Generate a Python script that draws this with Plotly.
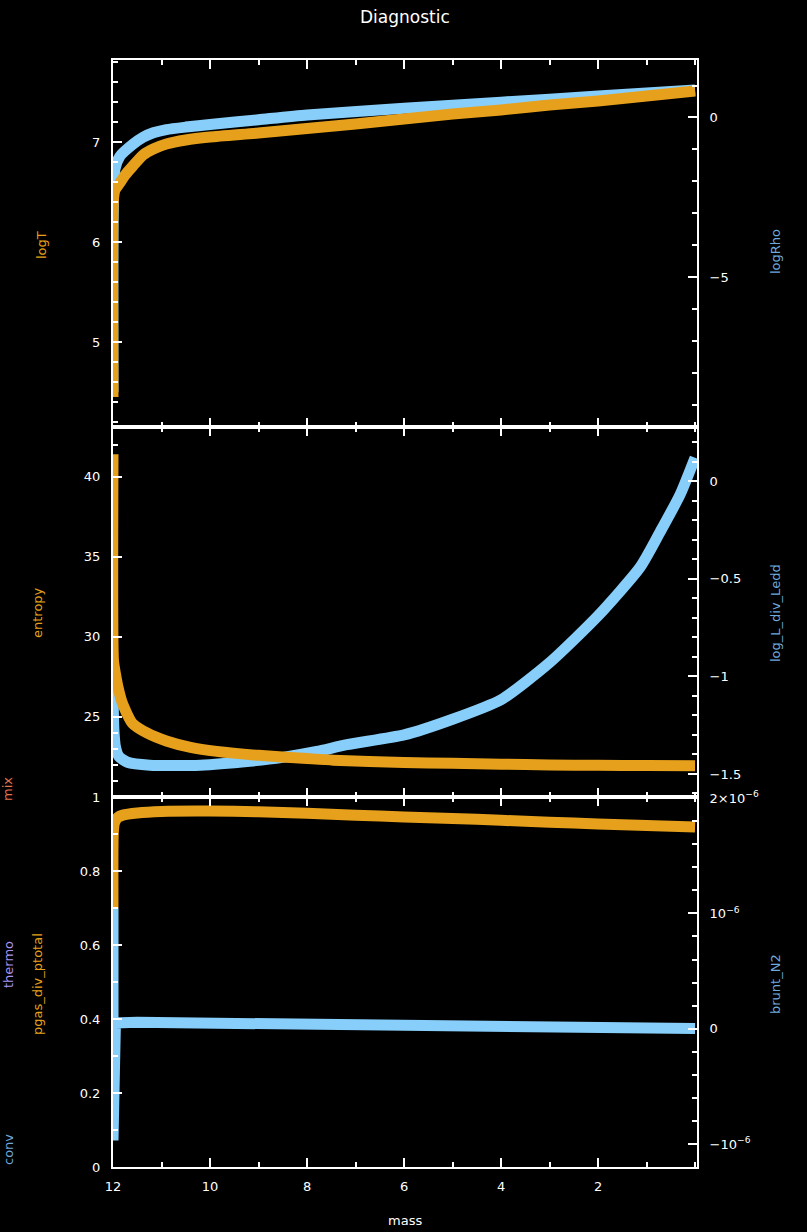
import plotly.graph_objects as go

# ---------------- data ----------------
# top panel
mass_logT = [12.0, 11.995, 11.96, 11.86, 11.75, 11.59, 11.38, 11.17, 10.9, 10.5, 10.0, 9.0, 8.0, 7.0, 6.0, 5.0, 4.0, 3.0, 2.0, 1.0, 0.0]
logT = [4.45, 6.40, 6.52, 6.59, 6.67, 6.76, 6.87, 6.93, 6.98, 7.02, 7.05, 7.09, 7.135, 7.18, 7.23, 7.28, 7.32, 7.37, 7.41, 7.46, 7.51]
mass_logRho = [12.0, 11.995, 11.96, 11.86, 11.59, 11.38, 11.17, 10.9, 10.5, 10.0, 9.0, 8.0, 6.0, 4.0, 2.0, 0.0]
logRho = [-8.6, -3.0, -1.62, -1.22, -0.84, -0.62, -0.48, -0.38, -0.30, -0.22, -0.07, 0.08, 0.29, 0.48, 0.67, 0.86]

# middle panel
mass_entropy = [12.0, 11.99, 11.95, 11.9, 11.8, 11.6, 11.3, 10.9, 10.4, 9.86, 9.0, 8.0, 7.46, 6.0, 5.0, 4.0, 3.0, 2.0, 1.0, 0.0]
entropy = [41.4, 28.5, 27.7, 26.9, 25.8, 24.6, 24.0, 23.5, 23.1, 22.85, 22.6, 22.4, 22.3, 22.15, 22.1, 22.05, 22.0, 21.98, 21.96, 21.95]
mass_lum = [12.0, 11.995, 11.98, 11.95, 11.88, 11.7, 11.24, 10.2, 9.18, 8.5, 7.8, 7.18, 6.0, 5.0, 4.0, 3.0, 2.0, 1.13, 0.72, 0.31, 0.0]
log_L_div_Ledd = [-1.0, -1.15, -1.28, -1.36, -1.41, -1.44, -1.455, -1.455, -1.435, -1.415, -1.385, -1.35, -1.30, -1.22, -1.12, -0.93, -0.69, -0.44, -0.26, -0.07, 0.12]

# bottom panel
mass_pgas = [12.0, 11.995, 11.97, 11.9, 11.8, 11.5, 11.0, 10.0, 9.0, 8.0, 7.0, 6.0, 5.0, 4.0, 3.0, 2.0, 1.0, 0.0]
pgas_div_ptotal = [0.70, 0.90, 0.93, 0.945, 0.951, 0.957, 0.961, 0.962, 0.960, 0.956, 0.951, 0.946, 0.942, 0.937, 0.932, 0.927, 0.923, 0.919]
mass_brunt = [12.0, 12.0, 12.0, 12.0, 12.0, 11.95, 11.5, 10.0, 8.8, 8.0, 6.0, 4.0, 2.0, 0.0]
brunt_N2 = [1.05e-6, -0.5e-6, 0.8e-6, -0.97e-6, 0.05e-6, 0.05e-6, 0.055e-6, 0.05e-6, 0.045e-6, 0.035e-6, 0.015e-6, 0.008e-6, 0.004e-6, 0.002e-6]

# ticks
x_ticks = [12, 10, 8, 6, 4, 2]
logT_ticks = [5, 6, 7]
logRho_ticks = [-5, 0]
entropy_ticks = [25, 30, 35, 40]
entropy_minor = [21, 22, 23, 24, 42]
lum_ticks = [-1.5, -1, -0.5, 0]
lum_text = ["\u22121.5", "\u22121", "\u22120.5", "0"]
pgas_ticks = [0, 0.2, 0.4, 0.6, 0.8, 1]
brunt_ticks = [-1e-6, 0, 1e-6, 2e-6]
brunt_text = ["\u221210<sup>\u22126</sup>", "0", "10<sup>\u22126</sup>", "2\u00d710<sup>\u22126</sup>"]

ORANGE = "#E6A01C"
BLUE = "#87CEFA"
LBL_BLUE = "#6FA8DC"
FONT = "DejaVu Sans"
W = 11

fig = go.Figure()

def sline(color):
    return dict(color=color, width=W, shape="spline", smoothing=0.6)

# blue traces on base (right) axes, orange on overlaying (left) axes -> orange on top
fig.add_trace(go.Scatter(x=mass_logRho, y=logRho, xaxis="x3", yaxis="y5", mode="lines", line=sline(BLUE)))
fig.add_trace(go.Scatter(x=mass_logT, y=logT, xaxis="x3", yaxis="y6", mode="lines", line=sline(ORANGE)))
fig.add_trace(go.Scatter(x=mass_lum, y=log_L_div_Ledd, xaxis="x2", yaxis="y3", mode="lines", line=sline(BLUE)))
fig.add_trace(go.Scatter(x=mass_entropy, y=entropy, xaxis="x2", yaxis="y4", mode="lines", line=sline(ORANGE)))
fig.add_trace(go.Scatter(x=mass_brunt, y=brunt_N2, xaxis="x", yaxis="y", mode="lines",
                         line=dict(color=BLUE, width=W)))
fig.add_trace(go.Scatter(x=mass_pgas, y=pgas_div_ptotal, xaxis="x", yaxis="y2", mode="lines", line=sline(ORANGE)))

H = 1107.0
d_bot = [0, 370 / H]
d_mid = [370 / H, 740 / H]
d_top = [740 / H, 1]

tickfont = dict(family=FONT, size=13, color="white")
minor_common = dict(ticks="inside", ticklen=5, tickcolor="white", tickwidth=1.5, showgrid=False)
common_x = dict(range=[12, -0.04], tickvals=x_ticks, ticks="inside", ticklen=9, tickwidth=1.5,
                tickcolor="white", showline=True, linecolor="white", linewidth=2, mirror="ticks",
                showgrid=False, zeroline=False, tickfont=tickfont, ticklabelstandoff=6,
                minor=dict(minor_common, dtick=1))

def yax(side, rng, domain=None, overlay=None, anchor="x", **kw):
    d = dict(range=rng, side=side, ticks="inside", ticklen=9, tickwidth=1.5, tickcolor="white",
             showline=True, linecolor="white", linewidth=2, showgrid=False, zeroline=False,
             tickfont=tickfont, anchor=anchor, ticklabelstandoff=8)
    if domain is not None:
        d["domain"] = domain
    if overlay is not None:
        d["overlaying"] = overlay
    d.update(kw)
    return d

fig.update_layout(
    width=807, height=1232,
    margin=dict(l=113, r=110, t=60, b=65),
    paper_bgcolor="black", plot_bgcolor="black",
    showlegend=False,
    font=dict(family=FONT, color="white"),
    xaxis=dict(common_x, anchor="y", domain=[0, 1]),
    xaxis2=dict(common_x, anchor="y3", matches="x", showticklabels=False),
    xaxis3=dict(common_x, anchor="y5", matches="x", showticklabels=False),
    # bottom
    yaxis=yax("right", [-1.2e-6, 2.01e-6], d_bot, anchor="x", tickvals=brunt_ticks, ticktext=brunt_text,
              minor=dict(minor_common, dtick=2e-7)),
    yaxis2=yax("left", [0, 1.0], overlay="y", anchor="x", tickvals=pgas_ticks,
               minor=dict(minor_common, dtick=0.1)),
    # middle
    yaxis3=yax("right", [-1.618, 0.277], d_mid, anchor="x2", tickvals=lum_ticks, ticktext=lum_text,
               minor=dict(minor_common, dtick=0.1)),
    yaxis4=yax("left", [20, 43.1], overlay="y3", anchor="x2", tickvals=entropy_ticks,
               minor=dict(minor_common, tickvals=entropy_minor)),
    # top
    yaxis5=yax("right", [-9.69, 1.8], d_top, anchor="x3", tickvals=logRho_ticks,
               minor=dict(minor_common, dtick=1)),
    yaxis6=yax("left", [4.15, 7.82], overlay="y5", anchor="x3", tickvals=logT_ticks,
               minor=dict(minor_common, dtick=0.2)),
)

def px2x(px):
    return (px - 113) / 584.0

def py2y(py):
    return (1167 - py) / H

labels = [
    ("Diagnostic", 405, 17, "white", 0, 17),
    ("logT", 42, 245, ORANGE, -90, 13),
    ("logRho", 775, 252, LBL_BLUE, -90, 13),
    ("entropy", 37, 613, ORANGE, -90, 13),
    ("log_L_div_Ledd", 775, 613, LBL_BLUE, -90, 13),
    ("mix", 8, 789, "#E8744C", -90, 13),
    ("thermo", 8, 965, "#A894F0", -90, 13),
    ("pgas_div_ptotal", 37, 984, ORANGE, -90, 13),
    ("conv", 8, 1150, LBL_BLUE, -90, 13),
    ("brunt_N2", 775, 984, LBL_BLUE, -90, 13),
    ("mass", 405, 1220, "white", 0, 13),
]
for text, px, py, col, ang, sz in labels:
    fig.add_annotation(text=text, x=px2x(px), y=py2y(py), xref="paper", yref="paper",
                       showarrow=False, textangle=ang, xanchor="center", yanchor="middle",
                       font=dict(family=FONT, size=sz, color=col))

fig.write_html("out.html")
